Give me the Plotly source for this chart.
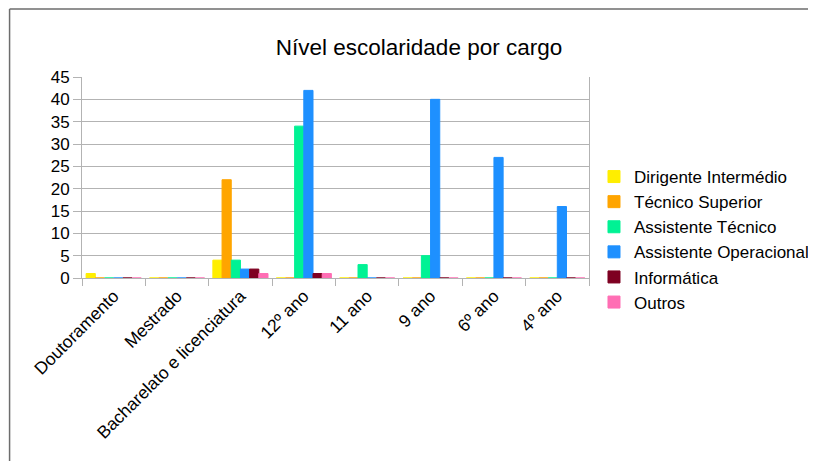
import plotly.graph_objects as go

categories = ["Doutoramento", "Mestrado", "Bacharelato e licenciatura", "12º ano",
              "11 ano", "9 ano", "6º ano", "4º ano"]

dirigente_intermedio = [1, 0, 4, 0, 0, 0, 0, 0]
tecnico_superior = [0, 0, 22, 0, 0, 0, 0, 0]
assistente_tecnico = [0, 0, 4, 34, 3, 5, 0, 0]
assistente_operacional = [0, 0, 2, 42, 0, 40, 27, 16]
informatica = [0, 0, 2, 1, 0, 0, 0, 0]
outros = [0, 0, 1, 1, 0, 0, 0, 0]

series_names = ["Dirigente Intermédio", "Técnico Superior", "Assistente Técnico",
                "Assistente Operacional", "Informática", "Outros"]
series_values = [dirigente_intermedio, tecnico_superior, assistente_tecnico,
                 assistente_operacional, informatica, outros]
series_colors = ["#FFEE00", "#FFA500", "#00F294", "#1E90FF", "#7E0021", "#FF6EB4"]

y_ticks = [0, 5, 10, 15, 20, 25, 30, 35, 40, 45]

# page body has an 8px margin: screen = figure + 8
OFF = 8
W, H = 816 - OFF, 461 - OFF
L, T = 73.5, 69
R = W - (589 - OFF)
B = H - (278 - OFF)
pw, ph = W - L - R, H - T - B

def px_x(sx):
    return (sx - OFF - L) / pw

def px_y(sy):
    return (H - B - (sy - OFF)) / ph

fig = go.Figure()
for i, (name, vals, col) in enumerate(zip(series_names, series_values, series_colors)):
    fig.add_trace(go.Bar(
        name=name, x=categories, y=vals,
        marker=dict(color=col, line=dict(color=col, width=1)),
        legendgroup=f"g{i}",
    ))

font_family = "Liberation Sans, Arial, sans-serif"
grid = "#b3b3b3"
frame = "#6d6d6d"

fig.update_layout(
    width=W, height=H,
    margin=dict(l=L, r=R, t=T, b=B, autoexpand=False),
    paper_bgcolor="white", plot_bgcolor="white",
    barmode="group", bargap=0.13, bargroupgap=0,
    font=dict(family=font_family, color="#000000", size=17),
    title=dict(text="Nível escolaridade por cargo", x=(419 - OFF) / W, xref="container", xanchor="center",
               y=1 - (47.5 - OFF) / H, yref="container", yanchor="middle",
               font=dict(size=22.5, family=font_family, color="#000000")),
    showlegend=True,
    legend=dict(x=px_x(594), y=px_y(159), xanchor="left", yanchor="top",
                traceorder="grouped", tracegroupgap=0,
                font=dict(size=17, family=font_family, color="#000000"),
                bgcolor="rgba(0,0,0,0)"),
    shapes=[
        dict(type="line", xref="paper", yref="paper",
             x0=px_x(9), x1=px_x(816), y0=px_y(9), y1=px_y(9),
             line=dict(color=frame, width=1.5), layer="below"),
        dict(type="line", xref="paper", yref="paper",
             x0=px_x(9), x1=px_x(9), y0=px_y(9), y1=px_y(461),
             line=dict(color=frame, width=1.5), layer="below"),
    ],
)

fig.update_xaxes(
    type="category", tickson="boundaries", ticks="outside", ticklen=7, tickcolor=grid,
    tickangle=-45, showline=True, linecolor=grid, linewidth=1, showgrid=False,
    layer="below traces", tickfont=dict(size=17.5),
)
fig.update_yaxes(
    range=[0, 45], tickvals=y_ticks, ticktext=[str(v) for v in y_ticks],
    ticks="outside", ticklen=8, tickcolor=grid,
    showline=True, linecolor=grid, linewidth=1, mirror=True,
    showgrid=True, gridcolor=grid, gridwidth=1, zeroline=False,
    tickfont=dict(size=17), layer="below traces",
)

fig.write_html("out.html", post_script="document.documentElement.style.overflow='hidden';document.body.style.overflow='hidden';")
